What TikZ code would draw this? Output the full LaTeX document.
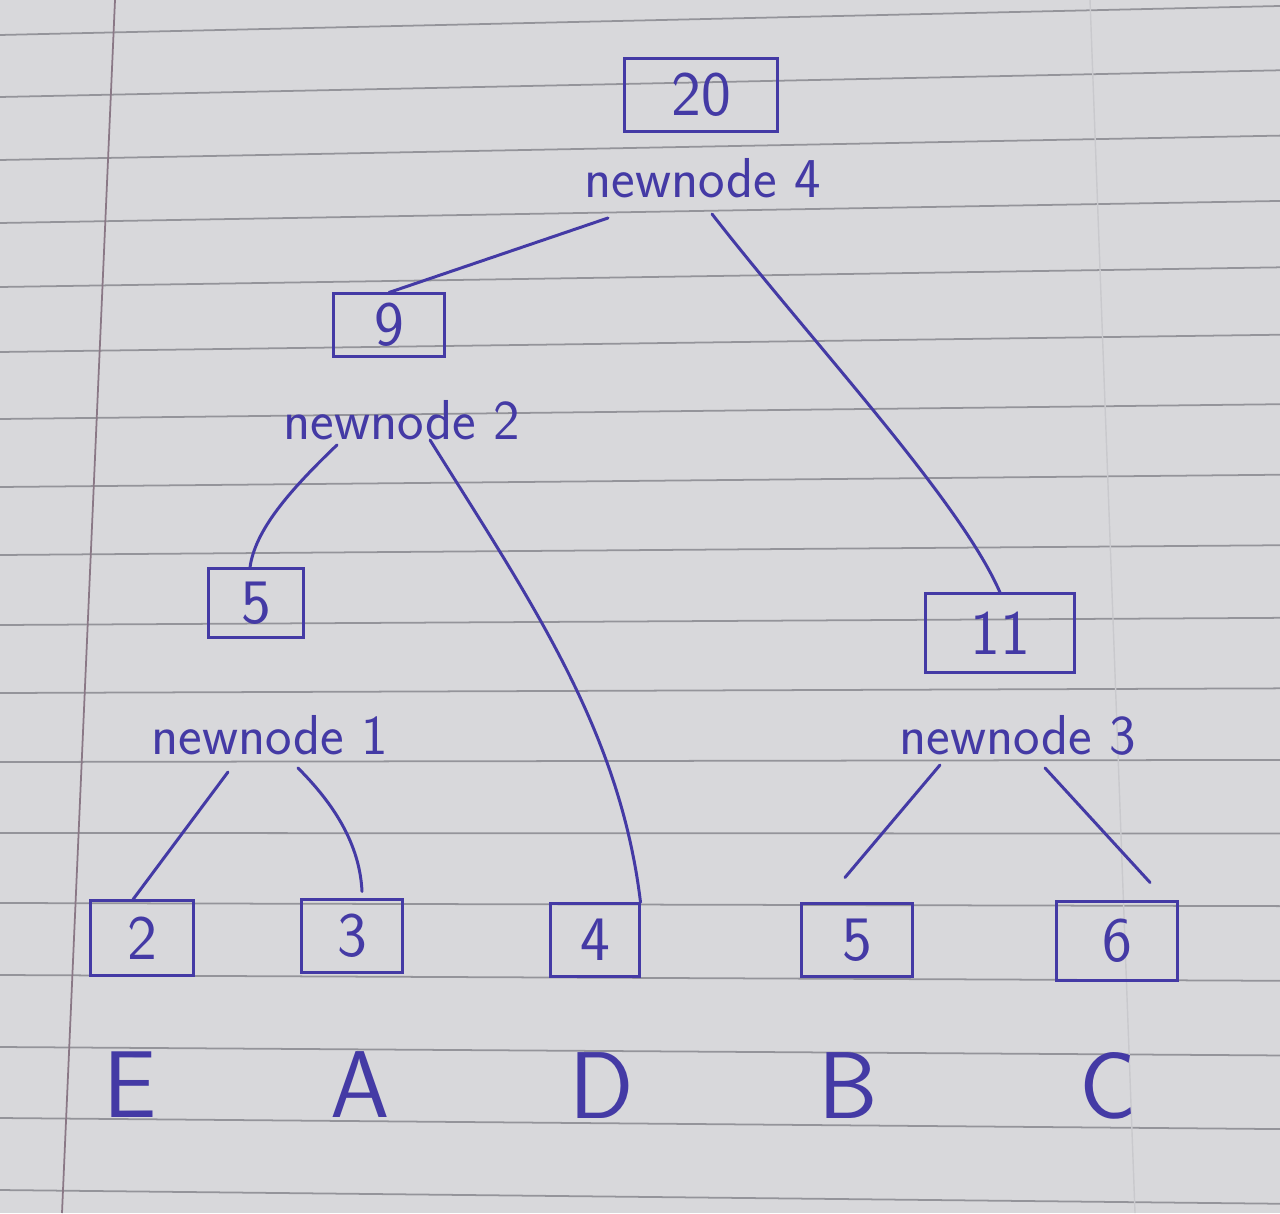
\documentclass[tikz,border=0pt]{standalone}
\usetikzlibrary{positioning}
\definecolor{ink}{RGB}{68,58,165}
\definecolor{paper}{RGB}{216,216,219}
\definecolor{rulegray}{RGB}{148,148,154}
\definecolor{margin}{RGB}{138,120,134}

\begin{document}
\begin{tikzpicture}[
    x=0.01cm, y=-0.01cm,
    wbox/.style={draw=ink, line width=0.85pt, inner sep=0pt, text=ink, font=\sffamily\fontsize{18}{20}\selectfont},
    tag/.style={inner sep=0pt, text=ink, font=\sffamily\fontsize{16}{18}\selectfont},
    sym/.style={inner sep=0pt, text=ink, font=\sffamily\fontsize{27}{29}\selectfont},
    link/.style={draw=ink, line width=0.85pt, line cap=round}
  ]
    \fill[paper] (0,0) rectangle (1280,1213);
    \useasboundingbox (0,0) rectangle (1280,1213);
    \foreach \y in {35,97,160,223,287,352,419,487,555,625,693,762,833,903,975,1047,1118,1190}
      \draw[rulegray, line width=0.5pt] (0,\y) -- (1280,{\y-29+0.037*(\y-35)});
    \draw[margin, line width=0.5pt] (115,0) -- (62,1213);
    \draw[rulegray!22!paper, line width=0.4pt] (1090,0) -- (1135,1213);

    \node[wbox, minimum width=1.53cm, minimum height=0.72cm] (b20) at (701,95) {20};
    \node[tag] (nn4) at (703,178) {newnode 4};

    \node[wbox, minimum width=1.10cm, minimum height=0.62cm] (b9) at (389,325) {9};
    \node[tag] (nn2) at (402,420) {newnode 2};

    \node[wbox, minimum width=0.95cm, minimum height=0.68cm] (b5a) at (256,603) {5};
    \node[tag] (nn1) at (270,735) {newnode 1};

    \node[wbox, minimum width=1.48cm, minimum height=0.78cm] (b11) at (1000,633) {11};
    \node[tag] (nn3) at (1018,735) {newnode 3};

    \node[wbox, minimum width=1.03cm, minimum height=0.74cm] (b2) at (142,938) {2};
    \node[wbox, minimum width=1.00cm, minimum height=0.72cm] (b3) at (352,936) {3};
    \node[wbox, minimum width=0.88cm, minimum height=0.72cm] (b4) at (595,940) {4};
    \node[wbox, minimum width=1.10cm, minimum height=0.72cm] (b5b) at (857,940) {5};
    \node[wbox, minimum width=1.21cm, minimum height=0.78cm] (b6) at (1117,941) {6};

    \node[sym, below=0.75cm of b2, xshift=-0.12cm] (lE) {E};
    \node[sym, below=0.77cm of b3, xshift=0.08cm] (lA) {A};
    \node[sym, below=0.74cm of b4, xshift=0.07cm] (lD) {D};
    \node[sym, below=0.74cm of b5b, xshift=-0.09cm] (lB) {B};
    \node[sym, below=0.70cm of b6, xshift=-0.09cm] (lC) {C};

    \draw[link] ([xshift=-0.95cm,yshift=-0.40cm]nn4.center) -- (b9.north);
    \draw[link] ([xshift=0.09cm,yshift=-0.36cm]nn4.center) .. controls (810,340) and (960,500) .. (b11.north);

    \draw[link] ([xshift=-0.65cm,yshift=-0.25cm]nn2.center) .. controls (290,490) and (255,530) .. ([xshift=-0.06cm]b5a.north);
    \draw[link] ([xshift=0.28cm,yshift=-0.20cm]nn2.center) .. controls (530,600) and (620,730) .. (b4.north east);

    \draw[link] ([xshift=-0.42cm,yshift=-0.37cm]nn1.center) -- ([xshift=-0.09cm]b2.north);
    \draw[link] ([xshift=0.28cm,yshift=-0.33cm]nn1.center) .. controls (340,810) and (360,850) .. ([xshift=0.10cm,yshift=0.07cm]b3.north);

    \draw[link] ([xshift=-0.78cm,yshift=-0.30cm]nn3.center) -- ([xshift=-0.12cm,yshift=0.25cm]b5b.north);
    \draw[link] ([xshift=0.27cm,yshift=-0.33cm]nn3.center) -- ([xshift=0.33cm,yshift=0.18cm]b6.north);
  \end{tikzpicture}
\end{document}
